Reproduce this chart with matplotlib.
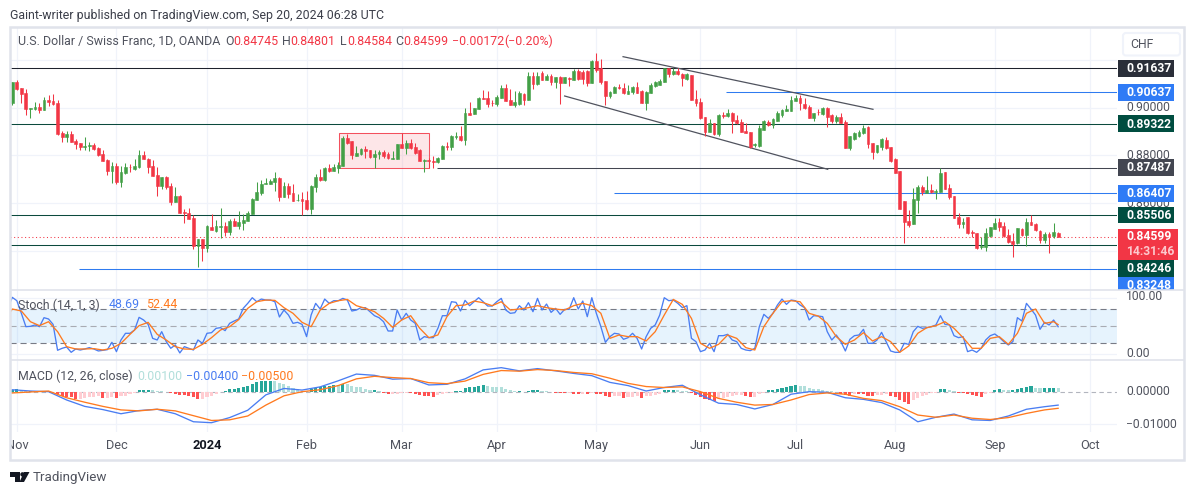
# usd/chf daily chart with stoch and macd panes
import numpy as np
import matplotlib
matplotlib.use('Agg')
import matplotlib.pyplot as plt
from matplotlib.patches import Rectangle, FancyBboxPatch, Polygon, Circle

plt.rcParams['font.family'] = ['Roboto', 'DejaVu Sans']

# candles
opens = [.9019,.9107,.9082,.9061,.8996,.8993,.9003,.8990,.9032,.9028,
.9019,.8894,.8877,.8890,.8860,.8851,.8837,.8839,.8844,.8830,
.8806,.8781,.8735,.8756,.8689,.8726,.8753,.8745,.8753,.8802,
.8787,.8756,.8718,.8671,.8708,.8672,.8605,.8630,.8563,.8558,
.8538,.8421,.8450,.8414,.8502,.8485,.8502,.8503,.8480,.8526,
.8505,.8519,.8524,.8556,.8613,.8641,.8682,.8682,.8690,.8707,
.8626,.8673,.8643,.8612,.8616,.8613,.8575,.8669,.8710,.8697,
.8747,.8735,.8747,.8757,.8873,.8859,.8799,.8806,.8827,.8821,
.8793,.8805,.8814,.8805,.8787,.8787,
.8848,.8831,.8852,.8835,.8823,.8778,.8781,.8777,.8771,.8785,
.8839,.8835,.8877,.8880,.8865,.8978,.8973,.8996,.9041,.9039,
.9021,.9015,.9042,.9082,.9032,.9011,.9015,.9057,.9031,.9132,
.9099,.9146,.9116,.9132,.9107,.9128,.9104,.9123,.9116,.9152,
.9149,.9152,.9104,.9194,.9165,.9111,.9047,.9063,.9085,.9082,
.9058,.9064,.9086,.9070,.9021,.9060,.9091,.9093,.9109,.9164,
.9142,.9152,.9139,.9120,.9138,.9035,.9023,.8959,.8898,.8934,
.8888,.8969,.8964,.8976,.8948,.8941,.8902,.8898,.8842,.8840,
.8906,.8940,.8929,.8945,.8968,.8987,.8984,.9029,
.9040,.9015,.9004,.8957,.8983,.8973,.9000,.8969,.8944,.8961,
.8938,.8831,.8867,.8881,.8892,.8919,.8850,.8815,.8837,.8863,
.8834,.8784,.8733,.8608,.8526,.8513,.8614,.8669,.8642,.8655,
.8647,.8648,.8731,.8662,.8631,.8544,.8513,.8541,.8481,.8477,
.8417,.8418,.8463,.8491,.8520,.8505,.8467,.8441,.8433,.8492,
.8467,.8523,.8514,.8482,.8446,.8471,.8463,.84745]
highs = [.9107,.9116,.9082,.9078,.8997,.9024,.9021,.9043,.9053,.9057,
.9032,.8904,.8901,.8901,.8867,.8853,.8877,.8855,.8851,.8837,
.8823,.8784,.8771,.8770,.8757,.8767,.8764,.8784,.8823,.8819,
.8789,.8781,.8753,.8711,.8714,.8686,.8669,.8635,.8575,.8579,
.8551,.8450,.8450,.8507,.8553,.8530,.8580,.8521,.8533,.8537,
.8568,.8553,.8568,.8623,.8689,.8697,.8704,.8700,.8731,.8708,
.8690,.8686,.8680,.8639,.8647,.8650,.8675,.8722,.8745,.8750,
.8764,.8766,.8774,.8881,.8890,.8859,.8840,.8830,.8841,.8823,
.8823,.8823,.8823,.8814,.8820,.8849,
.8892,.8865,.8867,.8853,.8827,.8784,.8788,.8798,.8792,.8842,
.8855,.8884,.8899,.8923,.8997,.9023,.8997,.9043,.9074,.9070,
.9032,.9053,.9095,.9099,.9077,.9071,.9071,.9063,.9149,.9149,
.9149,.9153,.9139,.9139,.9128,.9132,.9130,.9130,.9160,.9162,
.9158,.9156,.9199,.9227,.9202,.9111,.9070,.9091,.9097,.9102,
.9095,.9091,.9109,.9074,.9071,.9105,.9111,.9120,.9167,.9167,
.9165,.9165,.9146,.9146,.9138,.9074,.9039,.8959,.8951,.8937,
.8972,.8983,.8993,.8983,.8969,.8951,.8934,.8898,.8853,.8927,
.8948,.8948,.8957,.8985,.8993,.9010,.9049,.9053,
.9051,.9040,.9010,.8979,.8993,.9003,.9004,.8973,.8969,.8979,
.8948,.8881,.8899,.8906,.8927,.8923,.8853,.8844,.8874,.8878,
.8834,.8788,.8733,.8608,.8572,.8662,.8676,.8675,.8714,.8679,
.8658,.8749,.8731,.8680,.8631,.8560,.8537,.8541,.8488,.8477,
.8457,.8495,.8502,.8538,.8537,.8523,.8492,.8474,.8496,.8496,
.8537,.8549,.8519,.8488,.8481,.8481,.8519,.84801]
lows = [.9012,.9074,.9018,.8969,.8958,.8989,.8979,.8990,.9007,.9011,
.8885,.8856,.8858,.8856,.8827,.8823,.8823,.8820,.8823,.8798,
.8775,.8720,.8686,.8680,.8669,.8722,.8731,.8739,.8746,.8784,
.8728,.8714,.8632,.8658,.8658,.8593,.8605,.8558,.8519,.8535,
.8410,.8335,.8358,.8397,.8488,.8478,.8456,.8462,.8467,.8505,
.8491,.8488,.8524,.8556,.8613,.8634,.8679,.8679,.8652,.8609,
.8626,.8621,.8611,.8609,.8551,.8572,.8556,.8648,.8693,.8692,
.8731,.8735,.8728,.8757,.8848,.8787,.8799,.8800,.8789,.8790,
.8746,.8785,.8790,.8787,.8787,.8787,
.8830,.8806,.8826,.8806,.8777,.8732,.8746,.8747,.8768,.8784,
.8821,.8823,.8869,.8862,.8844,.8969,.8973,.8996,.9037,.9003,
.9007,.9007,.9042,.9028,.9010,.9003,.9012,.9012,.9031,.9078,
.9095,.9116,.9116,.9093,.9081,.9015,.9102,.9090,.9116,.9116,
.9097,.9092,.9104,.9151,.9099,.9011,.9042,.9060,.9077,.9057,
.9057,.9056,.9060,.9018,.8990,.9060,.9085,.9093,.9109,.9130,
.9136,.9136,.9090,.9116,.9032,.9007,.8951,.8883,.8898,.8887,
.8881,.8958,.8960,.8894,.8932,.8898,.8895,.8830,.8837,.8837,
.8906,.8923,.8916,.8945,.8962,.8986,.8984,.9028,
.8990,.8996,.8957,.8945,.8968,.8969,.8920,.8936,.8936,.8934,
.8832,.8823,.8865,.8876,.8890,.8832,.8784,.8809,.8823,.8826,
.8774,.8728,.8575,.8435,.8502,.8513,.8560,.8636,.8642,.8642,
.8619,.8648,.8658,.8619,.8540,.8495,.8495,.8471,.8457,.8410,
.8407,.8402,.8460,.8491,.8484,.8460,.8432,.8376,.8429,.8464,
.8423,.8509,.8485,.8432,.8432,.8393,.8453,.84584]
closes = [.9107,.9077,.9057,.8996,.8997,.9003,.8990,.9032,.9024,.9017,
.8890,.8877,.8890,.8856,.8848,.8835,.8839,.8842,.8827,.8802,
.8775,.8733,.8757,.8689,.8731,.8752,.8750,.8754,.8802,.8784,
.8752,.8714,.8673,.8708,.8669,.8605,.8630,.8561,.8561,.8535,
.8421,.8450,.8414,.8505,.8488,.8503,.8505,.8480,.8527,.8505,
.8521,.8530,.8561,.8619,.8647,.8680,.8685,.8693,.8707,.8625,
.8673,.8640,.8611,.8615,.8611,.8575,.8672,.8708,.8696,.8746,
.8735,.8752,.8760,.8873,.8853,.8800,.8810,.8827,.8820,.8793,
.8806,.8814,.8799,.8789,.8789,.8848,
.8832,.8852,.8830,.8812,.8777,.8781,.8778,.8772,.8789,.8839,
.8837,.8881,.8880,.8863,.8978,.8971,.8997,.9040,.9037,.9015,
.9018,.9043,.9082,.9029,.9011,.9023,.9063,.9032,.9132,.9097,
.9132,.9116,.9132,.9107,.9128,.9103,.9127,.9120,.9155,.9120,
.9118,.9103,.9196,.9158,.9107,.9047,.9065,.9086,.9082,.9060,
.9070,.9086,.9063,.9021,.9065,.9096,.9107,.9111,.9164,.9141,
.9152,.9139,.9123,.9139,.9032,.9021,.8955,.8898,.8934,.8888,
.8969,.8966,.8978,.8943,.8934,.8898,.8895,.8837,.8846,.8915,
.8945,.8929,.8954,.8979,.8990,.8993,.9032,.9040,
.9018,.8997,.8958,.8976,.8980,.9000,.8962,.8944,.8961,.8937,
.8832,.8880,.8892,.8899,.8915,.8849,.8816,.8844,.8867,.8830,
.8778,.8728,.8575,.8521,.8509,.8616,.8669,.8647,.8655,.8647,
.8651,.8728,.8661,.8627,.8540,.8513,.8521,.8477,.8474,.8414,
.8421,.8477,.8502,.8519,.8502,.8463,.8438,.8429,.8496,.8467,
.8520,.8509,.8488,.8446,.8471,.8457,.8480,.84599]

# stochastic, %k every bar from bar -1, %d read every second bar
stoch_k = [81.2,100.6,94.7,72.4,48.8,49.4,51.8,48.8,64.7,62.4,52.9,
7.1,10.6,12.9,3.5,9.4,7.6,9.4,11.8,9.4,5.9,
7.1,8.2,21.2,4.7,25.3,37.1,37.1,42.9,65.3,60.6,
52.9,28.2,25.3,40,22.4,10.6,16.5,2.4,13.5,10.6,
7.6,25.3,19.4,37.1,38.2,45.9,47.1,41.8,54.7,58.8,
62.4,81.2,90,100,92.9,97.6,95.9,95.9,92.9,65.9,
78.2,69.4,54.7,56.5,52.9,31.2,69.4,90,80,97.6,
90,94.7,94.7,98.8,95.9,76.5,78.2,82.4,82.4,75.3,
68.2,64.7,57.6,41.2,41.2,78.2,
60.6,72.4,60.6,54.7,25.3,31.2,29.4,29.4,45.9,68.2,
68.2,92.9,91.8,76.5,95.3,85.9,92.9,100,92.9,85.3,
85.3,92.9,98.8,78.2,72.4,73.5,85.9,78.2,91.2,75.3,
98.8,78.2,88.8,74.1,81.2,70.6,79.4,79.4,100,80,
94.1,66.5,100,72.4,48.8,21.2,31.2,37.1,35.9,26.5,
29.4,37.1,28.2,9.4,31.2,45.9,51.8,69.4,100,94.7,
95.9,90,82.4,85.9,28.2,22.4,4.7,7.6,19.4,4.7,
32.9,32.9,35.3,25.3,22.4,10.6,7.6,6.5,10.6,48.8,
70.6,63.5,72.4,87.1,97.6,88.2,95.9,94.7,
87.1,82.4,60.6,68.2,67.6,66.5,40,25.3,34.1,22.4,
5.9,26.5,32.9,34.1,44.1,19.4,19.4,25.3,38.8,22.4,
5.9,3.5,3.5,19.4,17.6,40,49.4,45.9,47.1,48.8,
51.8,68.2,52.9,51.8,32.9,29.4,31.2,4.7,7.6,3.5,
10.6,25.3,32.9,35.9,30,22.4,16.5,22.4,64.7,58.8,
90,80,69.4,44.1,56.5,51.8,60.6,48.69]
stoch_d = [68.2,80,76.5,57.6,50.6,57.6,40,13.5,9.4,9.4,10,7.6,10.6,19.4,35.3,50.6,56.5,35.3,25.3,13.5,9.4,
8.8,17.6,29.4,43,48.8,61.2,81.2,92.9,95.9,95.3,82.4,72.4,56.5,48.8,78.2,90,94.7,97,85.9,81.2,75.3,63.5,47.6,
60.6,68.2,45.9,29.4,34.1,66.5,85.9,87.1,94.1,91.2,85.9,92.9,78.2,80,82.4,85.9,82.4,80,78.2,85.9,90,85.9,72.4,
28.2,34.1,31.2,31.2,23.5,40,69.4,97,88.2,63.5,19.4,10.6,17.6,34.1,28.2,11.8,7.6,48.8,72.4,92.9,94.7,
92.9,72.4,67.6,54.7,31.2,17.6,25.3,38.2,23.5,31.2,22.4,3.5,14.7,37.1,47.1,50.6,57.6,45.9,29.4,10.6,10.6,
28.2,31.2,17.6,37.1,72.4,80,54.7,57.6,52.44]

# macd lines read every fourth bar from bar -1, histogram every bar
macd_line = [.0002,.0008,.0004,.0002,-.0024,-.0044,-.0054,-.0067,-.0057,-.0053,-.0067,-.0092,-.0095,-.0079,-.0056,-.0008,.0012,.0007,.0017,.0036,.0057,.0053,.0041,
.0043,.0023,.0025,.0042,.0070,.0077,.0067,.0074,.0067,.0059,.0052,.0031,.0021,.0004,.0015,.0022,-.0008,-.0034,-.0038,-.0052,-.0038,-.0006,
.0002,0,-.0017,-.0022,-.0032,-.0055,-.0092,-.0078,-.0068,-.0086,-.0088,-.0074,-.0053,-.0045,-.0040]
signal_line = [-.0003,-.0002,.0001,.0004,-.0017,-.0031,-.0044,-.0055,-.0058,-.0053,-.0058,-.0073,-.0088,-.0086,-.0074,-.0040,-.0011,.0002,.0008,.0021,.0042,.0050,.0046,
.0043,.0030,.0027,.0035,.0056,.0068,.0066,.0071,.0068,.0062,.0058,.0044,.0028,.0018,.0015,.0017,.0002,-.0019,-.0031,-.0040,-.0038,-.0024,
-.0007,-.0002,-.0006,-.0019,-.0026,-.0045,-.0071,-.0078,-.0071,-.0081,-.0085,-.0079,-.0066,-.0055,-.0050]
macd_hist = [.0007,.0009,.0008,.0003,.0003,.0001,.0001,.0001,.0001,.0001,
-.0005,-.00125,-.0015,-.0016,-.0021,-.0021,-.0018,-.0016,-.0015,-.0010,
-.0018,-.0018,-.0015,-.0019,-.00125,-.0010,-.0006,-.0003,.0007,.0008,
.0008,.0006,.0004,.0003,.0001,-.0002,-.0005,-.0008,-.0009,-.00125,
-.0015,-.0021,-.0021,-.0014,-.0010,-.0006,.0001,.0005,.0009,.0011,
.00125,.0018,.0021,.0027,.0031,.0036,.00362,.00365,.0034,.0028,
.0025,.0019,.0015,.0010,.0005,.0003,.0009,.0015,.0017,.0019,
.0019,.0023,.0022,.0027,.0026,.0019,.0018,.0016,.0011,.0006,
.0006,.0005,-.0003,-.0005,-.0005,-.0004,
-.0002,-.0002,-.0003,-.0005,-.0008,-.0010,-.00125,-.0015,-.0008,-.0005,
-.0003,-.0001,.0004,.0005,.0015,.0016,.0018,.0021,.0023,.0019,
.0018,.0017,.0016,.0009,.0006,.0003,.0003,.0001,.0004,.0006,
.0007,.0004,.0003,.0001,-.0001,-.0002,-.0003,-.0003,-.0005,-.0006,
-.0004,-.0006,-.0002,-.0004,-.0006,-.00125,-.0016,-.00125,-.0011,-.0017,
-.0015,-.0014,-.00125,-.0017,-.00125,-.0010,-.0007,-.0004,.0006,.0007,
.0008,.0006,.0005,.0003,-.0002,-.0008,-.0015,-.0021,-.0025,-.0027,
-.0021,-.0017,-.0015,-.0010,-.0009,-.0008,-.00125,-.0014,-.0014,-.0005,
-.0001,.0006,.0008,.0011,.00125,.0016,.0019,.0022,
.0020,.0019,.00125,.0010,.0009,.0008,.0004,.0003,.0001,-.0004,
-.0009,-.00125,-.0006,-.00062,-.00064,-.0011,-.00125,-.0008,-.0007,-.0006,
-.00125,-.0015,-.0023,-.0031,-.0037,-.0025,-.0019,-.0010,-.0007,-.0003,
-.0001,.0009,.00095,.0006,.0003,-.0002,-.0003,-.0005,-.0009,-.00125,
-.0014,-.0006,-.0001,.0007,.0009,.0008,.0006,.0007,.0011,.0014,
.0016,.0019,.0014,.00135,.00135,.00145,.00145,.00135]

# levels and drawings
level_prices = [.91637,.90637,.89322,.87487,.86407,.85506,.84246,.83248]
level_colors = ['#1e222d','#2f7bf0','#0b4a3d','#434651','#2f7bf0','#0b4a3d','#0b4a3d','#2f7bf0']
level_starts = [-0.5,157.7,-0.5,93.9,132.8,-0.5,-0.5,14.7]
label_centers = [.91637,.90637,.89322,.87487,.86407,.85506,.83273,.82578]
label_colors = ['#2a2e39','#2f7bf6','#004d40','#434651','#2f7bf6','#004d40','#004d40','#2f7bf6']
channel_top = [(134.9,.92131),(190.1,.89930)]
channel_low = [(122.0,.90486),(180.1,.87419)]
box_bars = (72.2,92.1)
box_prices = (.87461,.88926)
last_price = .84599
price_ticks = [.92,.90,.88,.86,.84]

month_bars = [1,23,43,65,86,107,129,152,173,195,217,238]
month_names = ['Nov','Dec','2024','Feb','Mar','Apr','May','Jun','Jul','Aug','Sep','Oct']

GREEN = '#43a047'
RED = '#f23645'
BLUE = '#4a7df2'
ORANGE = '#ff7a1f'
GRID = '#f0f3fa'
EDGE = '#e0e3eb'
TXT = '#50535e'
W, H = 1195, 495
L, R = 10, 1117

fig = plt.figure(figsize=(W/100, H/100), dpi=100)

def pane(top, bottom, left=L, right=R):
    a = fig.add_axes([left/W, 1-bottom/H, (right-left)/W, (bottom-top)/H])
    a.axis('off')
    return a

ax = pane(27, 289.5)
ax_stoch = pane(289.5, 360.3)
ax_macd = pane(360.3, 431.7)
ax_time = pane(431.7, 459)
ax_price = pane(27, 289.5, 1117.7, 1184)
page = pane(0, 495, 0, 1195)
page.set_xlim(0, W)
page.set_ylim(H, 0)
page.patch.set_alpha(0)

xlim = (-0.51, 244.0)
for a in (ax, ax_stoch, ax_macd, ax_time):
    a.set_xlim(*xlim)
ax.set_ylim(.82390, .93373)
ax_price.set_ylim(.82390, .93373)
ax_price.set_xlim(0, 66.3)
ax_stoch.set_ylim(-10.6, 114.5)
ax_macd.set_ylim(-.01231, .0100)
ax_time.set_ylim(0, 1)

# grid
for a in (ax, ax_stoch, ax_macd):
    a.vlines(month_bars, *a.get_ylim(), color=GRID, lw=0.9, zorder=0)
ax.hlines(price_ticks, *xlim, color=GRID, lw=0.9, zorder=0)
ax_stoch.hlines([100, 0], *xlim, color=GRID, lw=0.9, zorder=0)
ax_macd.hlines([-.01], *xlim, color=GRID, lw=0.9, zorder=0)

# levels
for p, c, s in zip(level_prices, level_colors, level_starts):
    ax.hlines(p, s, xlim[1], color=c, lw=0.75, zorder=1)
ax.hlines(last_price, *xlim, color=RED, lw=0.75, linestyles=(0, (1, 2.5)), zorder=1)
for line in (channel_top, channel_low):
    ax.plot([line[0][0], line[1][0]], [line[0][1], line[1][1]], color='#50535e', lw=0.9, zorder=1)
ax.add_patch(Rectangle((box_bars[0], box_prices[0]), box_bars[1]-box_bars[0], box_prices[1]-box_prices[0],
                       facecolor=RED, alpha=0.12, lw=0, zorder=1))
ax.add_patch(Rectangle((box_bars[0], box_prices[0]), box_bars[1]-box_bars[0], box_prices[1]-box_prices[0],
                       fill=False, edgecolor=RED, lw=0.75, alpha=0.85, zorder=1))

# candles
o, h, l, c = np.array(opens), np.array(highs), np.array(lows), np.array(closes)
bars = np.arange(len(c))
colors = [GREEN if c[i] >= o[i] else RED for i in bars]
ax.vlines(bars, l, h, colors=colors, lw=0.75, zorder=3)
ax.bar(bars, np.abs(c-o), bottom=np.minimum(o, c), width=0.62, color=colors, edgecolor=colors, lw=0.4, zorder=4)

# stoch pane
ax_stoch.axhspan(20, 80, color='#2196f3', alpha=0.11, lw=0, zorder=0)
ax_stoch.hlines([80, 20], *xlim, color='#787b86', lw=0.8, linestyles=(0, (5.5, 3.5)), zorder=1)
ax_stoch.hlines(50, *xlim, color='#a9abb3', lw=0.8, linestyles=(0, (5.5, 3.5)), zorder=1)
k_bars = np.arange(-1, len(c))
ax_stoch.plot(k_bars, stoch_k, color=BLUE, lw=0.95, zorder=3)
d_bars = [-1] + list(range(0, 231, 2)) + [231]
ax_stoch.plot(d_bars, stoch_d, color=ORANGE, lw=0.95, zorder=4)

# macd pane
hist = np.array(macd_hist)
hist_colors = []
for i in bars:
    up = i == 0 or hist[i] >= hist[i-1]
    if hist[i] >= 0:
        hist_colors.append('#26a69a' if up else '#b2dfdb')
    else:
        hist_colors.append('#ffcdd2' if up else '#ff5252')
ax_macd.hlines(0, *xlim, color='#b2b5be', lw=0.8, linestyles=(0, (4, 3)), zorder=1)
ax_macd.bar(bars, hist, width=0.68, color=hist_colors, lw=0, zorder=2)
line_bars = [-1] + list(range(0, 229, 4)) + [231]
ax_macd.plot(line_bars, macd_line, color=BLUE, lw=0.95, zorder=3)
ax_macd.plot(line_bars, signal_line, color=ORANGE, lw=0.95, zorder=4)

# time axis
for b, name in zip(month_bars, month_names):
    ax_time.text(b, 0.49, name, ha='center', va='center', fontsize=9.2, clip_on=True,
                 color='#131722' if name == '2024' else TXT,
                 fontweight='bold' if name == '2024' else 'normal')

# price axis
x_txt = 8.6
SZ = 8.7
for p, s in zip([.90, .88, .86], ['0.90000', '0.88000', '0.86000']):
    ax_price.text(x_txt, p, s, va='center', fontsize=SZ, color=TXT, clip_on=True, zorder=1)
label_h = 16.7/2390
for p, center, col in zip(level_prices, label_centers, label_colors):
    ax_price.add_patch(Rectangle((0, center-label_h/2), 56.3, label_h, color=col, lw=0, zorder=2))
    ax_price.text(x_txt, center-.0001, '%.5f' % p, va='center', fontsize=SZ, color='white',
                  fontweight='bold', clip_on=True, zorder=3)
ax_price.add_patch(Rectangle((0, .83625), 60.4, .84921-.83625, color=RED, lw=0, zorder=2))
ax_price.text(x_txt, last_price-.0001, '%.5f' % last_price, va='center', fontsize=SZ, color='white',
              fontweight='bold', zorder=3)
ax_price.text(x_txt, .84, '14:31:46', va='center', fontsize=SZ, color='#fcc8cd', fontweight='bold', zorder=3)

# lower pane ticks
tx = (1126-L)/(R-L)
for a, v, s in [(ax_stoch, 101.5, '100.00'), (ax_stoch, 1.5, '0.00'), (ax_macd, .0001, '0.00000'), (ax_macd, -.00995, '\u22120.01000')]:
    a.text(tx, v, s, va='center', fontsize=SZ, color=TXT, transform=a.get_yaxis_transform(), clip_on=False)

# frame and text on top
page.add_patch(Rectangle((10, 27), 1174, 432.5, fill=False, edgecolor=EDGE, lw=1.8, zorder=1))
page.hlines([289.5, 360.3], 10, 1184, color=EDGE, lw=1.2, zorder=1)
page.add_patch(FancyBboxPatch((1123, 33), 57, 22.5, boxstyle='round,pad=0,rounding_size=3', facecolor='white',
                              edgecolor='#f0f3fa', lw=1.5, zorder=2))
page.text(1130, 44.5, 'CHF', va='center', fontsize=8.8, color=TXT, zorder=3)
page.text(10, 15, 'Gaint-writer published on TradingView.com, Sep 20, 2024 06:28 UTC', va='center',
          fontsize=8.95, color='#3c3f4a')

legend_main = [(18, 'U.S. Dollar / Swiss Franc, 1D, OANDA', TXT), (225, 'O', TXT), (233, '0.84745', RED),
               (282.5, 'H', TXT), (290, '0.84801', RED), (340, 'L', TXT), (347, '0.84584', RED),
               (395, 'C', TXT), (403, '0.84599', RED), (452, '\u22120.00172', RED), (504, '(\u22120.20%)', RED)]
for x, s, col in legend_main:
    page.text(x, 41.5, s, va='center', fontsize=8.9, color=col, zorder=5)
legend_stoch = [(18, 'Stoch (14, 1, 3)', TXT), (109, '48.69', BLUE), (146, '52.44', ORANGE)]
for x, s, col in legend_stoch:
    page.text(x, 305, s, va='center', fontsize=8.9, color=col, zorder=5)
legend_macd = [(18, 'MACD (12, 26, close)', TXT), (137, '0.00100', '#b2dfdb'), (186, '\u22120.00400', BLUE), (241, '\u22120.00500', ORANGE)]
for x, s, col in legend_macd:
    page.text(x, 376, s, va='center', fontsize=8.9, color=col, zorder=5)

# logo
page.add_patch(Polygon([(10, 472), (20, 472), (20, 482), (15, 482), (15, 476.5), (10, 476.5)], color='#131722', lw=0))
page.add_patch(Circle((22.5, 474.4), 2.2, color='#131722', lw=0))
page.add_patch(Polygon([(24, 482), (19.5, 482), (24, 472), (29.5, 472)], color='#131722', lw=0))
page.text(33, 478, 'TradingView', va='center', fontsize=9.6, color='#50535e')

fig.savefig('out.png', dpi=100, facecolor='white')
